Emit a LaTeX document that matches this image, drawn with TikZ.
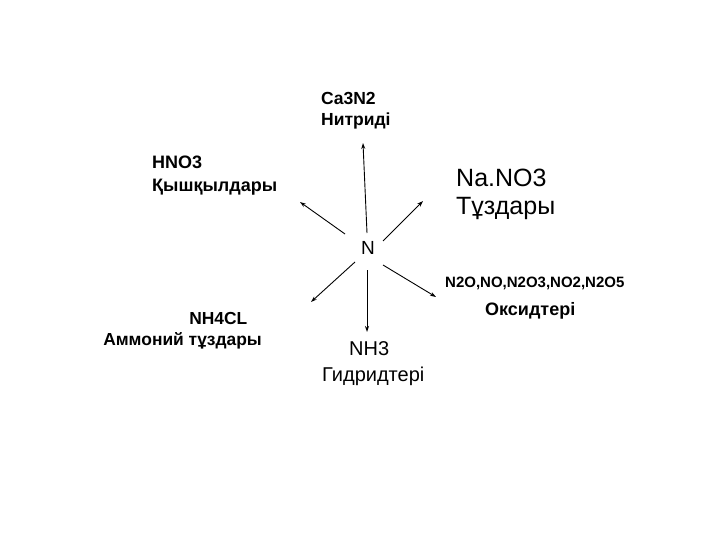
\documentclass[tikz,border=0pt]{standalone}
\usepackage{fontspec}
\setmainfont{Liberation Sans}
\usetikzlibrary{arrows.meta}
\begin{document}
\begin{tikzpicture}[x=1pt,y=-1pt,
  ar/.style={-{Stealth[length=6pt,width=4pt]},line width=0.9pt},
  bt/.style={font=\fontsize{18}{23}\selectfont\bfseries,align=left,anchor=north west,inner sep=0pt},
  rt/.style={font=\fontsize{25}{28}\selectfont,align=left,anchor=north west,inner sep=0pt}]
\useasboundingbox (0,0) rectangle (720,540);
\node[font=\fontsize{19}{22}\selectfont,inner sep=0pt] (N) at (368,248) {N};
\coordinate (u1) at (367,233); \coordinate (u2) at (363,143);
\coordinate (ul1) at (345,234); \coordinate (ul2) at (300,202);
\coordinate (ur1) at (383,241); \coordinate (ur2) at (423,201);
\coordinate (dl1) at (355,262); \coordinate (dl2) at (311,302);
\coordinate (d1) at (367,270); \coordinate (d2) at (367,332);
\coordinate (dr1) at (383,265); \coordinate (dr2) at (436,297);
\draw[ar] (u1) -- (u2);
\draw[ar] (ul1) -- (ul2);
\draw[ar] (ur1) -- (ur2);
\draw[ar] (dl1) -- (dl2);
\draw[ar] (d1) -- (d2);
\draw[ar] (dr1) -- (dr2);
\node[bt,font=\fontsize{17.5}{21}\selectfont\bfseries] (ca) at (321,92) {Ca3N2\\Нитриді};
\node[bt] (hno) at (152,156) {HNO3\\Қышқылдары};
\node[rt] (na) at (456,169) {Na.NO3\\Тұздары};
\node[bt,font=\fontsize{15}{18}\selectfont\bfseries] (ox1) at (445,277) {N2O,NO,N2O3,NO2,N2O5};
\node[bt] (ox2) at (485,302) {Оксидтері};
\node[bt,font=\fontsize{17.4}{21}\selectfont\bfseries,align=right,anchor=north east] (nh4) at (262,312) {NH4CL\phantom{iii}\\Аммоний тұздары};
\node[rt,font=\fontsize{20}{25}\selectfont] (nh3) at (349,341) {NH3};
\node[rt,font=\fontsize{20}{25}\selectfont] (gid) at (322,367) {Гидридтері};
\end{tikzpicture}
\end{document}
